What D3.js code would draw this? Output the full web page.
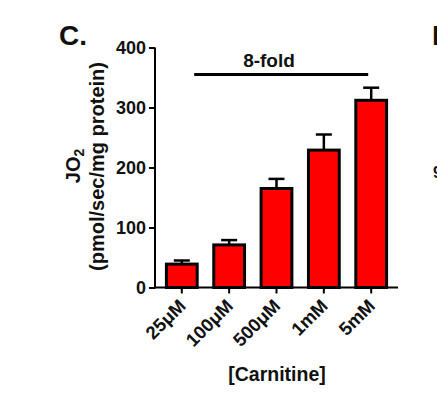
<!DOCTYPE html>
<html lang="en">
<head>
	<meta charset="UTF-8">
	<title>Carnitine JO2</title>
	<script src="https://cdn.jsdelivr.net/npm/d3@7"></script>
	<style>
		body { margin: 0; background: #fff; }
		text { font-family: "Liberation Sans", Arial, sans-serif; font-weight: bold; fill: #111; }
	</style>
</head>
<body>
	<div id="chart"></div>
<script>
var categories = ["25\u03bcM", "100\u03bcM", "500\u03bcM", "1mM", "5mM"]; // carnitine concentrations
var means = [39, 71, 165, 229, 312];   // JO2 mean
var errors = [6, 8, 16, 26, 21];       // SEM (upward only)
var yTicks = [0, 100, 200, 300, 400];
var foldFrom = "25\u03bcM", foldTo = "5mM", foldLevel = 355, foldText = "8-fold";

var svg = d3.select("#chart").append("svg")
	.attr("width", 437)
	.attr("height", 398);

var x = d3.scaleBand()
	.domain(categories)
	.range([156, 397])
	.paddingInner(0.35)
	.paddingOuter(0.22);

var y = d3.scaleLinear()
	.domain([0, 400])
	.range([287.5, 47.5]);

// bars
svg.selectAll("rect.bar")
	.data(means)
	.enter().append("rect")
	.attr("class", "bar")
	.attr("x", function(d, i){ return x(categories[i]); })
	.attr("y", function(d){ return y(d); })
	.attr("width", x.bandwidth())
	.attr("height", function(d){ return y(0) - y(d); })
	.attr("fill", "#ff0000")
	.attr("stroke", "#000")
	.attr("stroke-width", 3);

// error bars
var eb = svg.selectAll("g.err")
	.data(means)
	.enter().append("g")
	.attr("class", "err")
	.attr("stroke", "#000")
	.attr("stroke-width", 2.5);
eb.append("line")
	.attr("x1", function(d, i){ return x(categories[i]) + x.bandwidth() / 2; })
	.attr("x2", function(d, i){ return x(categories[i]) + x.bandwidth() / 2; })
	.attr("y1", function(d){ return y(d); })
	.attr("y2", function(d, i){ return y(d + errors[i]); });
eb.append("line")
	.attr("x1", function(d, i){ return x(categories[i]) + x.bandwidth() / 2 - 8; })
	.attr("x2", function(d, i){ return x(categories[i]) + x.bandwidth() / 2 + 8; })
	.attr("y1", function(d, i){ return y(d + errors[i]); })
	.attr("y2", function(d, i){ return y(d + errors[i]); });

// axes
var yAxis = svg.append("g")
	.attr("transform", "translate(155,0)")
	.call(d3.axisLeft(y).tickValues(yTicks).tickSize(6).tickPadding(3).tickSizeOuter(0));
var xAxis = svg.append("g")
	.attr("transform", "translate(0," + y(0) + ")")
	.call(d3.axisBottom(x).tickSize(6).tickSizeOuter(0).tickFormat(""));
svg.selectAll(".domain, .tick line").attr("stroke", "#000").attr("stroke-width", 2);
xAxis.select(".domain").attr("d", "M154,0H398");
yAxis.select(".domain").attr("d", "M0," + y(400) + "V" + (y(0) + 1));
yAxis.selectAll(".tick text")
	.style("font-size", "18px")
	.style("font-family", "'Liberation Sans', Arial, sans-serif")
	.style("font-weight", "bold")
	.attr("dy", "0.35em")
	.attr("fill", "#111");

// rotated x labels
svg.selectAll("text.xlab")
	.data(categories)
	.enter().append("text")
	.attr("class", "xlab")
	.attr("text-anchor", "end")
	.attr("font-size", 18.5)
	.attr("transform", function(d){
		return "translate(" + (x(d) + x.bandwidth() / 2 + 5) + ",307) rotate(-45)";
	})
	.text(function(d){ return d; });

// fold line
svg.append("line")
	.attr("x1", x(foldFrom) + x.bandwidth() - 3)
	.attr("x2", x(foldTo) + x.bandwidth() / 2 - 3)
	.attr("y1", y(foldLevel))
	.attr("y2", y(foldLevel))
	.attr("stroke", "#000")
	.attr("stroke-width", 3);
svg.append("text")
	.attr("x", 269)
	.attr("y", 67)
	.attr("text-anchor", "middle")
	.attr("font-size", 19)
	.text(foldText);

// axis titles
var yl = svg.append("text")
	.attr("transform", "translate(80,166) rotate(-90)")
	.attr("text-anchor", "middle")
	.attr("font-size", 20);
yl.append("tspan").text("JO");
yl.append("tspan").attr("font-size", 14).attr("dy", 4).text("2");
svg.append("text")
	.attr("transform", "translate(104,166.5) rotate(-90)")
	.attr("text-anchor", "middle")
	.attr("font-size", 20)
	.text("(pmol/sec/mg protein)");
svg.append("text")
	.attr("x", 277)
	.attr("y", 381)
	.attr("text-anchor", "middle")
	.attr("font-size", 19.5)
	.text("[Carnitine]");

// panel letters
svg.append("text").attr("x", 59).attr("y", 45).attr("font-size", 28).text("C.");
svg.append("text").attr("x", 432).attr("y", 45).attr("font-size", 28).text("D.");
svg.append("text").attr("x", 433).attr("y", 178).attr("font-size", 16).text("9");
</script>
</body>
</html>
